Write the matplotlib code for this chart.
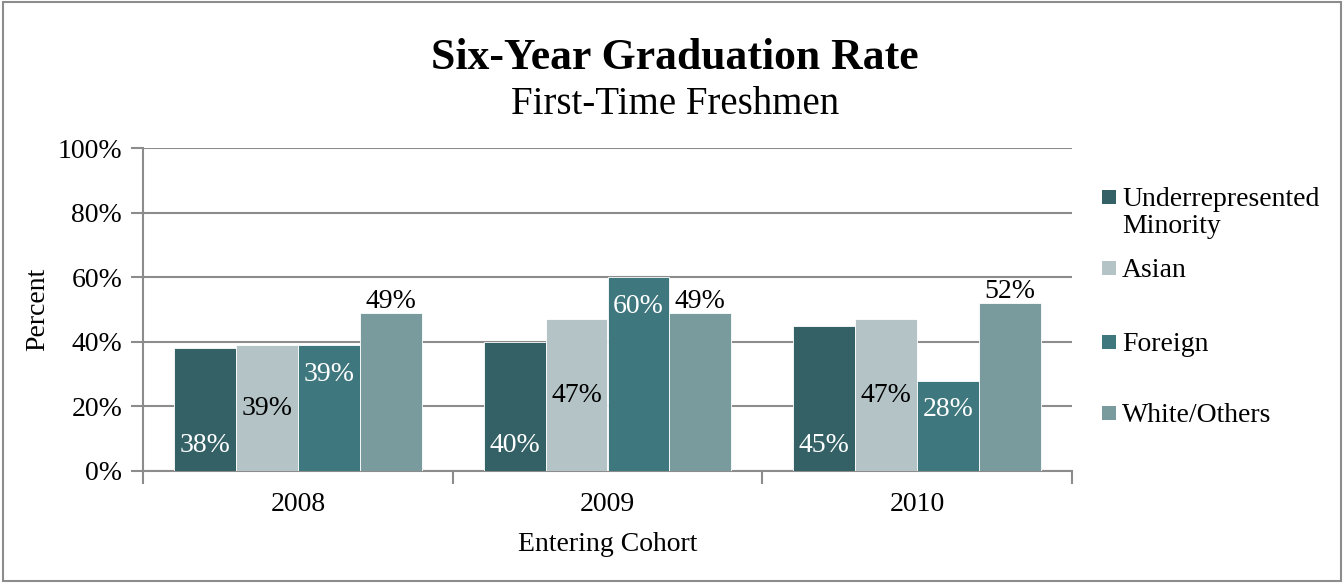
import numpy as np
import matplotlib.pyplot as plt
from matplotlib.patches import Rectangle

# Datos
cohorts = ['2008', '2009', '2010']
series = ['Underrepresented\nMinority', 'Asian', 'Foreign', 'White/Others']
urm = [38, 40, 45]
asian = [39, 47, 47]
foreign = [39, 60, 28]
white = [49, 49, 52]
colors = ['#336166', '#b3c3c6', '#3e777d', '#799b9e']

plt.rcParams['font.family'] = ['Liberation Serif', 'DejaVu Serif']

W, H = 1344, 583
fig = plt.figure(figsize=(W / 100, H / 100), dpi=100)
ax = fig.add_axes([143 / W, 1 - 471 / H, (1072 - 143) / W, (471 - 148) / H])

x = np.arange(len(cohorts))
w = 0.2
values = [urm, asian, foreign, white]
bars = []
for i, (vals, c) in enumerate(zip(values, colors)):
    b = ax.bar(x + (i - 1.5) * w, vals, w, color=c, edgecolor='white',
               linewidth=0.6, label=series[i], zorder=3)
    bars.append(b)

# Etiquetas de datos
fs = 20
for rect, v in zip(bars[0], urm):
    ax.text(rect.get_x() + rect.get_width() / 2, 7.8, f'{v}%', ha='center',
            va='center', color='white', fontsize=fs, zorder=4)
for rect, v in zip(bars[1], asian):
    ax.text(rect.get_x() + rect.get_width() / 2, v / 2, f'{v}%', ha='center',
            va='center', color='black', fontsize=fs, zorder=4)
for rect, v in zip(bars[2], foreign):
    ax.text(rect.get_x() + rect.get_width() / 2, v - 9, f'{v}%', ha='center',
            va='center', color='white', fontsize=fs, zorder=4)
for rect, v in zip(bars[3], white):
    ax.text(rect.get_x() + rect.get_width() / 2, v + 3.5, f'{v}%', ha='center',
            va='center', color='black', fontsize=fs, zorder=4)

# Ejes
ax.set_xlim(-0.5, 2.5)
ax.set_ylim(0, 100)
ax.set_yticks(np.arange(0, 101, 20))
ax.set_yticklabels([f'{t}%' for t in range(0, 101, 20)])
ax.set_xticks(x)
ax.set_xticklabels(cohorts)
ax.set_xticks([-0.5, 0.5, 1.5, 2.5], minor=True)
ax.tick_params(axis='x', which='major', length=0, pad=15, labelsize=fs)
ax.tick_params(axis='x', which='minor', length=9, color='#8c8c8c', width=1.5)
ax.tick_params(axis='y', length=9, color='#8c8c8c', width=1.5, labelsize=fs, pad=6)
ax.grid(axis='y', color='#8c8c8c', linewidth=1.5, zorder=0)
for s in ['top', 'right']:
    ax.spines[s].set_visible(False)
for s in ['left', 'bottom']:
    ax.spines[s].set_color('#8c8c8c')
    ax.spines[s].set_linewidth(1.5)

ax.set_xlabel('Entering Cohort', fontsize=fs, labelpad=11)
ax.set_ylabel('Percent', fontsize=fs, labelpad=5)

fig.text(675 / W, 1 - 58 / H, 'Six-Year Graduation Rate', ha='center', va='center',
         fontsize=31.5, fontweight='bold')
fig.text(675 / W, 1 - 104 / H, 'First-Time Freshmen', ha='center', va='center',
         fontsize=28)

# Leyenda
leg_y = [197, 268, 342, 413]
sq = 14
for lab, c, yy in zip(series, colors, leg_y):
    fig.patches.append(Rectangle((1102 / W, 1 - (yy + sq / 2) / H), sq / W, sq / H,
                                 transform=fig.transFigure, facecolor=c,
                                 edgecolor='none'))
    fig.text(1122 / W, 1 - (yy - 10) / H, lab, ha='left', va='top',
             fontsize=fs, linespacing=1.1)

fig.patches.append(Rectangle((0.002, 0.003), 0.996, 0.994, transform=fig.transFigure,
                             fill=False, edgecolor='#8c8c8c', linewidth=1.5))

plt.savefig('out.png', dpi=100)
